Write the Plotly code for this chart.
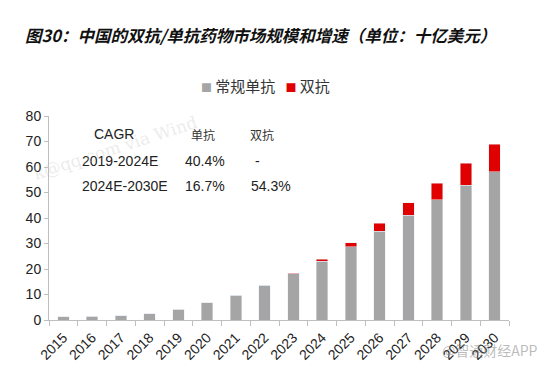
import plotly.graph_objects as go

years = [str(y) for y in range(2015, 2031)]
mono = [1.3, 1.4, 1.7, 2.5, 4.3, 6.7, 9.8, 13.6, 18.1, 23.0, 28.8, 34.9, 41.0, 47.2, 52.8, 58.2]
bispec = [0, 0, 0, 0, 0, 0, 0, 0, 0.2, 0.8, 1.4, 3.0, 4.9, 6.5, 8.6, 10.8]
y_ticks = [0, 10, 20, 30, 40, 50, 60, 70, 80]
series_names = ["常规单抗", "双抗"]
series_colors = ["#A5A5A5", "#E00000"]

cagr_header = ["CAGR", "单抗", "双抗"]
cagr_rows = [["2019-2024E", "40.4%", "-"],
             ["2024E-2030E", "16.7%", "54.3%"]]

# plot area in pixels
L, R, T, B = 49, 509, 116, 320
W, H = R - L, B - T


def px(x):
    return (x - L) / W


def py(y):
    return (B - y) / H


fig = go.Figure()
fig.add_bar(x=years, y=mono, name=series_names[0], marker_color=series_colors[0])
fig.add_bar(x=years, y=bispec, name=series_names[1], marker_color=series_colors[1])

font_main = "Liberation Sans, Arial, sans-serif"
cjk = "Noto Sans CJK SC"
fig.update_layout(
    barmode="stack",
    bargap=0.6,
    width=554, height=368,
    margin=dict(l=L, r=554 - R, t=T, b=368 - B),
    paper_bgcolor="white", plot_bgcolor="white",
    font=dict(family=font_main, color="#222", size=13),
    showlegend=False,
    xaxis=dict(type="category", tickangle=-45, showline=True, linecolor="#BFBFBF",
               ticks="outside", tickson="boundaries", ticklen=5, tickcolor="#BFBFBF",
               ticklabelstandoff=3, automargin=False,
               tickfont=dict(size=14, color="#222"), showgrid=False),
    yaxis=dict(range=[0, 80], tickvals=y_ticks, showline=True, linecolor="#BFBFBF",
               ticks="outside", ticklen=4, tickcolor="#BFBFBF", showgrid=False,
               automargin=False,
               tickfont=dict(size=14, color="#222"), zeroline=False),
)

# title
fig.add_annotation(text="<b><i>图30：中国的双抗/单抗药物市场规模和增速（单位：十亿美元）</i></b>",
                   xref="paper", yref="paper", x=px(23), y=py(35), xanchor="left", yanchor="middle",
                   showarrow=False, font=dict(family=cjk, size=16.5, color="#111"))

# legend (drawn manually to match compact spacing)
fig.add_annotation(
    text=(f"<span style='color:{series_colors[0]};font-size:11px'>■</span> {series_names[0]}   "
          f"<span style='color:{series_colors[1]};font-size:11px'>■</span> {series_names[1]}"),
    xref="paper", yref="paper", x=px(199), y=py(85), xanchor="left", yanchor="middle",
    showarrow=False, font=dict(family=cjk, size=15, color="#333"))

# CAGR table
fig.add_annotation(text=cagr_header[0], xref="paper", yref="paper", x=px(92), y=py(134),
                   xanchor="left", yanchor="middle", showarrow=False,
                   font=dict(family=font_main, size=14, color="#222"))
fig.add_annotation(text=cagr_header[1], xref="paper", yref="paper", x=px(203), y=py(134),
                   xanchor="center", yanchor="middle", showarrow=False,
                   font=dict(family=cjk, size=12, color="#333"))
fig.add_annotation(text=cagr_header[2], xref="paper", yref="paper", x=px(262), y=py(134),
                   xanchor="center", yanchor="middle", showarrow=False,
                   font=dict(family=cjk, size=12, color="#333"))
for r, (yy, row) in enumerate(zip([161, 186], cagr_rows)):
    fig.add_annotation(text=row[0], xref="paper", yref="paper", x=px(80), y=py(yy),
                       xanchor="left", yanchor="middle", showarrow=False,
                       font=dict(family=font_main, size=14, color="#222"))
    fig.add_annotation(text=row[1], xref="paper", yref="paper", x=px(205), y=py(yy),
                       xanchor="center", yanchor="middle", showarrow=False,
                       font=dict(family=font_main, size=14, color="#222"))
    fig.add_annotation(text=row[2], xref="paper", yref="paper",
                       x=px(253) if row[2] == "-" else px(249), y=py(yy),
                       xanchor="left", yanchor="middle", showarrow=False,
                       font=dict(family=font_main, size=14, color="#222"))

# faint watermarks
fig.add_annotation(text="k@qq.com via Wind", xref="paper", yref="paper", x=px(115), y=py(148),
                   xanchor="center", yanchor="middle", showarrow=False, textangle=-18,
                   font=dict(family="DejaVu Serif", size=17, color="rgba(190,190,190,0.3)"))
fig.add_annotation(text="@智通财经APP", xref="paper", yref="paper", x=px(540), y=py(350),
                   xanchor="right", yanchor="middle", showarrow=False,
                   font=dict(family=cjk, size=14, color="rgba(120,120,120,0.5)"))

fig.write_html("out.html", config={"displayModeBar": False},
               post_script="document.body.style.margin='0';")
